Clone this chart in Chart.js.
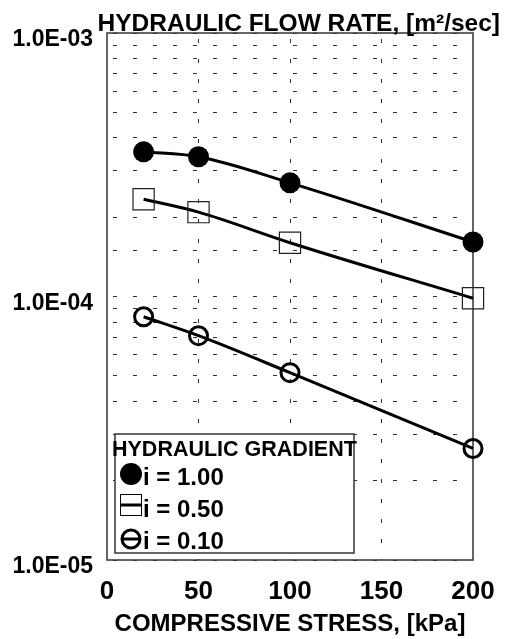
<!DOCTYPE html>
<html>
<head>
<meta charset="utf-8">
<title>Hydraulic flow rate</title>
<script src="https://cdn.jsdelivr.net/npm/chart.js@4/dist/chart.umd.min.js"></script>
<style>
  html, body { margin: 0; padding: 0; background: #fff; }
  canvas { display: block; }
</style>
</head>
<body>
<canvas id="grafico" width="507" height="639"></canvas>
<script>
// Datos
const stress = [20, 50, 100, 200];
const flowI100 = [3.54e-4, 3.39e-4, 2.70e-4, 1.61e-4];
const flowI050 = [2.34e-4, 2.09e-4, 1.60e-4, 9.85e-5];
const flowI010 = [8.38e-5, 7.10e-5, 5.14e-5, 2.65e-5];
const gradientLabels = ['i = 1.00', 'i = 0.50', 'i = 0.10'];
const legendTitle = 'HYDRAULIC GRADIENT';
const chartTitle = 'HYDRAULIC FLOW RATE, [m²/sec]';
const xTitle = 'COMPRESSIVE STRESS, [kPa]';
const yTickValues = [1e-5, 1e-4, 1e-3];
const yTickLabels = ['1.0E-05', '1.0E-04', '1.0E-03'];

const FONT = "'Liberation Sans', Arial, Helvetica, sans-serif";
Chart.defaults.font.family = FONT;
Chart.defaults.font.weight = 'bold';
Chart.defaults.color = '#000';

function pts(values) {
  return stress.map((x, i) => ({ x: x, y: values[i] }));
}

// Marco del area del grafico
const framePlugin = {
  id: 'frame',
  beforeDatasetsDraw(chart) {
    const a = chart.chartArea, c = chart.ctx;
    c.save();
    c.strokeStyle = '#333';
    c.lineWidth = 1.5;
    c.strokeRect(a.left, a.top, a.right - a.left, a.bottom - a.top);
    c.restore();
  }
};

// Titulo superior
const titlePlugin = {
  id: 'topTitle',
  afterDraw(chart) {
    const c = chart.ctx;
    c.save();
    c.font = 'bold 24.5px ' + FONT;
    c.fillStyle = '#000';
    c.textAlign = 'right';
    c.textBaseline = 'alphabetic';
    c.fillText(chartTitle, 500, 31);
    c.restore();
  }
};

// Leyenda dentro del area
const legendPlugin = {
  id: 'boxLegend',
  afterDraw(chart) {
    const c = chart.ctx;
    c.save();
    c.fillStyle = '#fff';
    c.fillRect(115, 434, 239, 119);
    c.strokeStyle = '#333';
    c.lineWidth = 1.5;
    c.strokeRect(115, 434, 239, 119);

    c.fillStyle = '#000';
    c.textAlign = 'left';
    c.textBaseline = 'alphabetic';
    c.font = 'bold 21.5px ' + FONT;
    c.fillText(legendTitle, 112, 456);

    const rows = [474, 505, 539];
    const base = [485, 517, 549];
    c.font = 'bold 24px ' + FONT;
    chart.data.datasets.forEach((ds, i) => {
      const y = rows[i];
      const x = 131;
      c.strokeStyle = '#000';
      if (i === 0) {
        c.beginPath();
        c.arc(x, y, 11, 0, Math.PI * 2);
        c.fill();
      } else if (i === 1) {
        c.lineWidth = 1;
        c.strokeRect(120.5, 494.5, 21, 21);
        c.lineWidth = 3;
        c.beginPath();
        c.moveTo(120, y);
        c.lineTo(142, y);
        c.stroke();
      } else {
        c.lineWidth = 3;
        c.beginPath();
        c.arc(x, y, 9, 0, Math.PI * 2);
        c.stroke();
        c.beginPath();
        c.moveTo(121, y);
        c.lineTo(141, y);
        c.stroke();
      }
      c.fillText(ds.label, 143, base[i]);
    });
    c.restore();
  }
};

const ctx = document.getElementById('grafico').getContext('2d');
const grafico = new Chart(ctx, {
  type: 'line',
  data: {
    datasets: [
      {
        label: gradientLabels[0],
        data: pts(flowI100),
        borderColor: '#000',
        borderWidth: 3,
        pointStyle: 'circle',
        pointRadius: 10.5,
        pointBackgroundColor: '#000',
        pointBorderWidth: 0,
        cubicInterpolationMode: 'monotone',
        clip: false,
        fill: false
      },
      {
        label: gradientLabels[1],
        data: pts(flowI050),
        borderColor: '#000',
        borderWidth: 3,
        pointStyle: 'rect',
        pointRadius: 15,
        pointBackgroundColor: 'transparent',
        pointBorderColor: '#222',
        pointBorderWidth: 1.2,
        cubicInterpolationMode: 'monotone',
        clip: false,
        fill: false
      },
      {
        label: gradientLabels[2],
        data: pts(flowI010),
        borderColor: '#000',
        borderWidth: 3,
        pointStyle: 'circle',
        pointRadius: 9,
        pointBackgroundColor: 'transparent',
        pointBorderColor: '#000',
        pointBorderWidth: 3,
        cubicInterpolationMode: 'monotone',
        clip: false,
        fill: false
      }
    ]
  },
  options: {
    responsive: false,
    animation: false,
    layout: { padding: { top: 33, right: 34, left: 0, bottom: 0 } },
    plugins: {
      legend: { display: false },
      tooltip: { enabled: false }
    },
    scales: {
      x: {
        type: 'linear',
        min: 0,
        max: 200,
        afterFit: s => { s.height = 79; s.paddingLeft = 0; s.paddingRight = 0; },
        border: { display: false, dash: [4, 16], dashOffset: -6 },
        grid: {
          drawTicks: false,
          lineWidth: 1,
          color: c => (c.tick && (c.tick.value === 0 || c.tick.value === 200)) ? 'rgba(0,0,0,0)' : '#333'
        },
        ticks: { stepSize: 50, font: { size: 26 }, padding: 16, maxRotation: 0 },
        title: { display: true, text: xTitle, font: { size: 24 }, padding: { top: 0, bottom: 0 } }
      },
      y: {
        type: 'logarithmic',
        min: 1e-5,
        max: 1e-3,
        afterFit: s => { s.width = 107; s.paddingTop = 0; s.paddingBottom = 0; },
        border: { display: false, dash: [4, 16], dashOffset: -6 },
        grid: { drawTicks: false, lineWidth: 1, color: '#333' },
        ticks: {
          autoSkip: false,
          padding: 14,
          labelOffset: 7,
          font: { size: 23 },
          callback: v => {
            const i = yTickValues.findIndex(t => Math.abs(v / t - 1) < 1e-6);
            return i >= 0 ? yTickLabels[i] : '';
          }
        }
      }
    }
  },
  plugins: [framePlugin, titlePlugin, legendPlugin]
});
</script>
</body>
</html>
